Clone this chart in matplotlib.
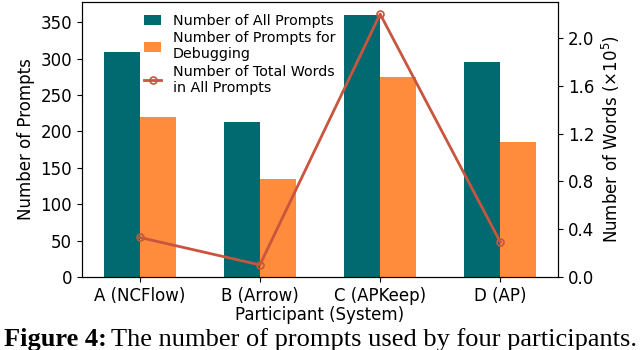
import matplotlib.pyplot as plt
import numpy as np

participants = ["A (NCFlow)", "B (Arrow)", "C (APKeep)", "D (AP)"]
all_prompts = [310, 213, 360, 295]
debug_prompts = [220, 134, 275, 185]
total_words = [0.33, 0.10, 2.20, 0.29]  # x10^5

teal = "#006a70"
orange = "#ff8c3d"
red = "#c8553d"

fig = plt.figure(figsize=(6.4, 3.5), dpi=100)
ax = fig.add_axes([0.128, 0.209, 0.744, 0.785])
x = np.arange(len(participants))
w = 0.3

b1 = ax.bar(x - w/2, all_prompts, w, color=teal, label="Number of All Prompts")
b2 = ax.bar(x + w/2, debug_prompts, w, color=orange, label="Number of Prompts for\nDebugging")
ax.set_ylim(0, 378)
ax.set_yticks(range(0, 351, 50))
ax.set_ylabel("Number of Prompts", fontsize=12)
ax.set_xlabel("Participant (System)", fontsize=12, labelpad=1)
ax.set_xticks(x)
ax.set_xticklabels(participants)
ax.tick_params(labelsize=12)

ax2 = ax.twinx()
l1, = ax2.plot(x, total_words, color=red, lw=2, marker="o", markersize=5,
               markerfacecolor="none", markeredgewidth=1.2,
               label="Number of Total Words\nin All Prompts")
ax2.set_ylim(0, 2.3)
ax2.set_yticks([0.0, 0.4, 0.8, 1.2, 1.6, 2.0])
ax2.set_ylabel("Number of Words (×10$^5$)", fontsize=12)
ax2.tick_params(labelsize=12)

ax.legend(handles=[b1, b2, l1], loc="upper left", bbox_to_anchor=(0.107, 1.0),
          frameon=False, fontsize=10.3, handlelength=1.2, labelspacing=0.25,
          borderpad=0.3, handletextpad=0.8)

# caption: bold part then regular part right after it
renderer = fig.canvas.get_renderer()
cap_y = 0.012
t1 = fig.text(0.006, cap_y, "Figure 4:", ha="left", va="baseline",
              fontsize=19, fontweight="bold", family="Liberation Serif")
bb = t1.get_window_extent(renderer)
x_next = (bb.x1 + 4) / fig.bbox.width
fig.text(x_next, cap_y, "The number of prompts used by four participants.",
         ha="left", va="baseline", fontsize=19, family="Liberation Serif")

fig.savefig("out.png", dpi=100)
